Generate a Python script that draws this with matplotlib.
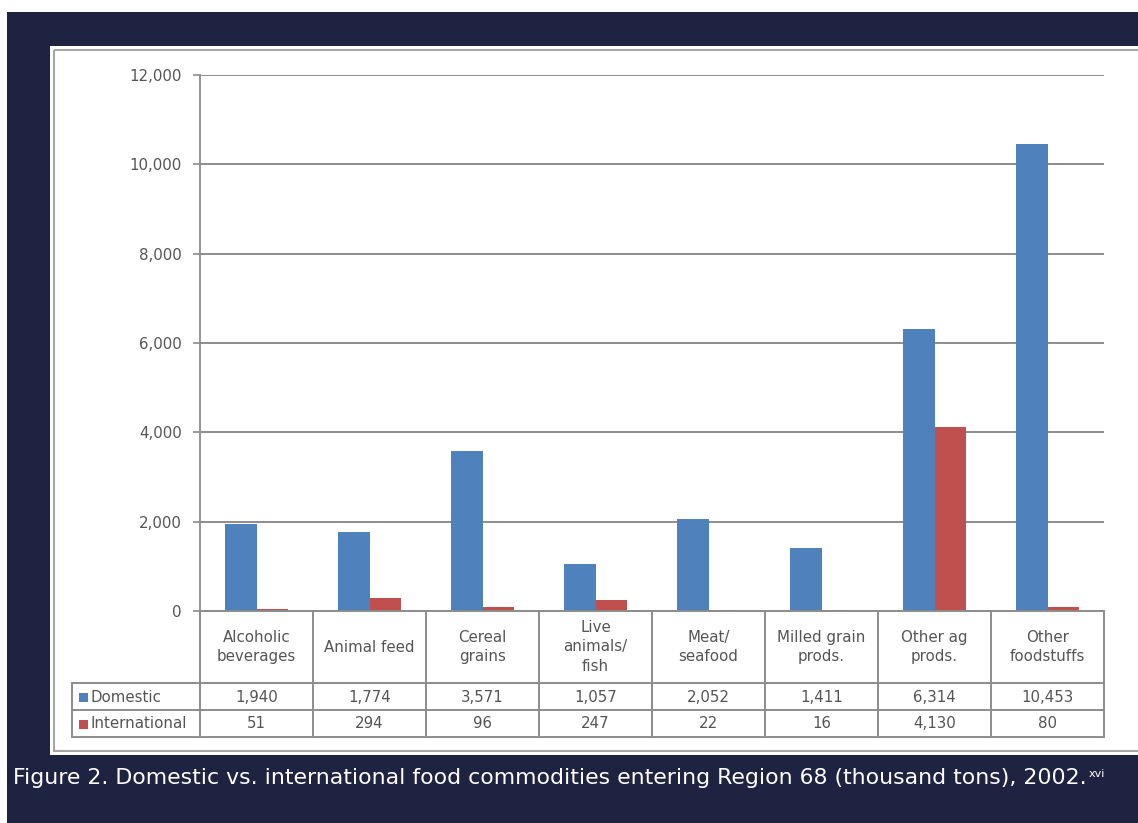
import matplotlib.pyplot as plt
from matplotlib.patches import Rectangle
from matplotlib.lines import Line2D

plt.rcParams["font.family"] = "DejaVu Sans"

# food commodities entering Region 68, thousand tons, 2002
categories = ["Alcoholic\nbeverages", "Animal feed", "Cereal\ngrains",
              "Live\nanimals/\nfish", "Meat/\nseafood", "Milled grain\nprods.",
              "Other ag\nprods.", "Other\nfoodstuffs"]
domestic = [1940, 1774, 3571, 1057, 2052, 1411, 6314, 10453]
international = [51, 294, 96, 247, 22, 16, 4130, 80]
series_names = ["Domestic", "International"]
yticks = [0, 2000, 4000, 6000, 8000, 10000, 12000]

caption = ("Figure 2. Domestic vs. international food commodities entering "
           "Region 68 (thousand tons), 2002.")

W, H = 1138, 823
NAVY = "#1f2342"
BLUE = "#4f81bd"
RED = "#c0504d"
GRID = "#8c8c8c"
TXT = "#555555"
FS = 10.8


def box(x0, y0, x1, y1):
    # pixel box (top-left origin) -> figure fraction rect
    return [x0 / W, 1 - y1 / H, (x1 - x0) / W, (y1 - y0) / H]


fig = plt.figure(figsize=(W / 100, H / 100), dpi=100)
fig.patch.set_facecolor("white")

# page background and white chart panel
bg = fig.add_axes([0, 0, 1, 1], zorder=-10)
bg.set_xlim(0, W)
bg.set_ylim(H, 0)
bg.axis("off")
bg.add_patch(Rectangle((7, 12), W, H, facecolor=NAVY, edgecolor="none"))
bg.add_patch(Rectangle((50, 46), W, 709, facecolor="white", edgecolor="none"))
bg.add_patch(Rectangle((54, 50), W, 701, facecolor="none",
                       edgecolor="#a6a6a6", lw=1.5))

# bars
ax = fig.add_axes(box(200, 75, 1104, 611))
x = list(range(len(categories)))
bw = 0.283
ax.bar([i - bw / 2 for i in x], domestic, bw, color=BLUE, zorder=3)
ax.bar([i + bw / 2 for i in x], international, bw, color=RED, zorder=3)
ax.set_xlim(-0.5, len(categories) - 0.5)
ax.set_ylim(0, 12000)
ax.set_yticks(yticks)
ax.set_yticklabels([f"{v:,}" for v in yticks], fontsize=FS, color=TXT)
ax.set_xticks([])
ax.tick_params(axis="y", length=5, width=1.2, color=GRID, pad=8)
for s in ["top", "right", "bottom"]:
    ax.spines[s].set_visible(False)
ax.spines["left"].set_color(GRID)
ax.spines["left"].set_linewidth(1.3)
ax.yaxis.grid(True, color=GRID, lw=1.4)
ax.set_axisbelow(True)

# data table under the bars, same x scale; y in pixels from the zero line
tb = fig.add_axes(box(200, 611, 1104, 737))
tb.set_xlim(-0.5, len(categories) - 0.5)
tb.set_ylim(126, 0)
tb.axis("off")
label_left = -0.5 - (200 - 72) / 113
right = len(categories) - 0.5
kw = dict(color=GRID, lw=1.4, clip_on=False)
tb.add_line(Line2D([-0.5, right], [0, 0], **kw))
for yy in [72, 99, 126]:
    tb.add_line(Line2D([label_left, right], [yy, yy], **kw))
for i in range(len(categories) + 1):
    tb.add_line(Line2D([i - 0.5, i - 0.5], [0, 126], **kw))
tb.add_line(Line2D([label_left, label_left], [72, 126], **kw))

for i, cat in enumerate(categories):
    tb.text(i, 36, cat, ha="center", va="center", fontsize=FS,
            color=TXT, linespacing=1.4)
    tb.text(i, 86, f"{domestic[i]:,}", ha="center", va="center",
            fontsize=FS, color=TXT)
    tb.text(i, 113, f"{international[i]:,}", ha="center", va="center",
            fontsize=FS, color=TXT)

sq = 9 / 113
for yy, name, col in zip([86, 113], series_names, [BLUE, RED]):
    tb.add_patch(Rectangle((label_left + 7 / 113, yy - 4.5), sq, 9,
                           facecolor=col, edgecolor="none", clip_on=False))
    tb.text(label_left + 19 / 113, yy, name, ha="left", va="center",
            fontsize=FS, color=TXT, clip_on=False)

# caption
cap = bg.text(13, 778, caption, ha="left", va="center", fontsize=15.8,
              color="white", family="DejaVu Sans")
bg.annotate("xvi", xy=(1, 0.95), xycoords=cap, xytext=(1.5, 0),
            textcoords="offset points", ha="left", va="top",
            fontsize=8, color="white", family="DejaVu Sans")

fig.savefig("out.png", dpi=100, facecolor=fig.get_facecolor())
